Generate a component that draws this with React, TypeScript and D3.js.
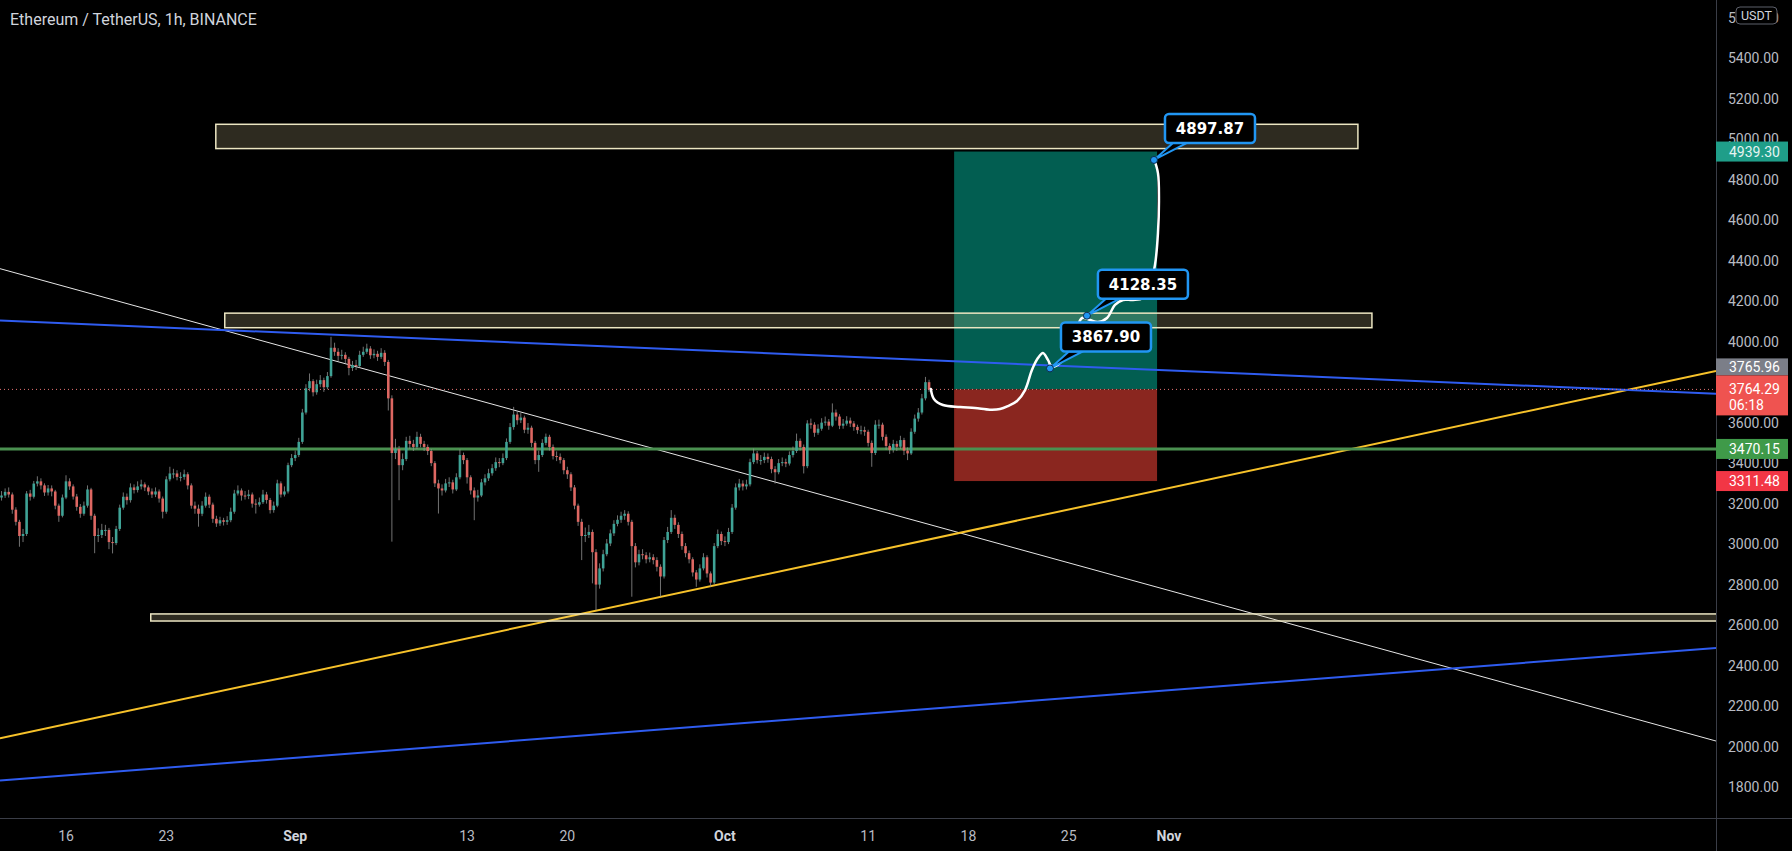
import React from "react";
import * as d3 from "d3";

// chart size
const W = 1792;
const H = 851;
const plotRight = 1716;
const plotBottom = 818;

const title = "Ethereum / TetherUS, 1h, BINANCE";

// candles: 6h steps starting at firstCandle, open = previous close
const firstCandle = "2021-08-11T12:00:00Z";
const candleHours = 6;
const firstOpen = 3230;
// [high, low, close]
const candles: [number, number, number][] = [
  [3262, 3215, 3240], [3275, 3228, 3258], [3280, 3230, 3245], [3255, 3150, 3170], [3182, 3092, 3110],
  [3120, 2987, 3040], [3075, 3010, 3050], [3262, 3040, 3250], [3268, 3215, 3234], [3312, 3225, 3299],
  [3335, 3285, 3310], [3325, 3270, 3290], [3300, 3238, 3255], [3292, 3240, 3275], [3290, 3236, 3260],
  [3268, 3172, 3190], [3200, 3110, 3140], [3245, 3132, 3230], [3340, 3222, 3310], [3325, 3268, 3285],
  [3295, 3220, 3235], [3248, 3165, 3184], [3198, 3130, 3150], [3210, 3140, 3190], [3290, 3180, 3270],
  [3278, 3120, 3140], [3150, 2955, 3040], [3078, 3010, 3045], [3100, 3030, 3070], [3095, 3040, 3070],
  [3080, 2975, 3010], [3035, 2954, 3005], [3090, 2995, 3075], [3195, 3065, 3180], [3255, 3170, 3234],
  [3250, 3195, 3217], [3300, 3205, 3280], [3295, 3250, 3267], [3310, 3255, 3285], [3318, 3270, 3295],
  [3305, 3262, 3280], [3290, 3242, 3260], [3275, 3228, 3245], [3280, 3232, 3260], [3270, 3205, 3225],
  [3235, 3127, 3160], [3335, 3150, 3320], [3382, 3310, 3349], [3372, 3325, 3349], [3365, 3315, 3332],
  [3355, 3310, 3332], [3368, 3318, 3345], [3355, 3270, 3290], [3300, 3175, 3190], [3210, 3150, 3175],
  [3195, 3086, 3150], [3212, 3138, 3190], [3255, 3180, 3234], [3245, 3178, 3195], [3205, 3105, 3125],
  [3140, 3085, 3102], [3135, 3090, 3118], [3130, 3092, 3110], [3138, 3095, 3118], [3180, 3108, 3160],
  [3268, 3150, 3250], [3290, 3240, 3265], [3275, 3215, 3240], [3262, 3220, 3238], [3268, 3222, 3245],
  [3255, 3180, 3200], [3222, 3151, 3195], [3230, 3185, 3207], [3268, 3198, 3245], [3258, 3200, 3218],
  [3228, 3151, 3168], [3210, 3155, 3190], [3318, 3182, 3300], [3310, 3230, 3245], [3285, 3235, 3260],
  [3402, 3250, 3390], [3445, 3380, 3425], [3462, 3410, 3440], [3525, 3430, 3505], [3668, 3495, 3650],
  [3790, 3640, 3770], [3843, 3755, 3805], [3815, 3730, 3750], [3812, 3738, 3790], [3835, 3775, 3810],
  [3822, 3752, 3775], [3850, 3765, 3830], [4024, 3822, 3970], [3995, 3930, 3950], [3968, 3905, 3930],
  [3960, 3912, 3935], [3948, 3895, 3915], [3925, 3834, 3870], [3905, 3855, 3885], [3910, 3860, 3880],
  [3955, 3872, 3935], [3975, 3925, 3950], [3990, 3940, 3966], [3978, 3915, 3933], [3962, 3918, 3940],
  [3955, 3905, 3925], [3968, 3915, 3945], [3958, 3880, 3900], [3910, 3660, 3720], [3735, 3012, 3450],
  [3520, 3420, 3470], [3485, 3217, 3390], [3448, 3365, 3420], [3530, 3410, 3510], [3535, 3470, 3495],
  [3515, 3460, 3480], [3555, 3470, 3530], [3545, 3478, 3495], [3510, 3460, 3480], [3492, 3440, 3460],
  [3470, 3385, 3400], [3410, 3282, 3300], [3318, 3151, 3275], [3295, 3240, 3265], [3322, 3255, 3300],
  [3330, 3282, 3305], [3318, 3250, 3270], [3350, 3262, 3330], [3468, 3320, 3440], [3452, 3395, 3415],
  [3425, 3299, 3330], [3340, 3245, 3265], [3280, 3118, 3230], [3268, 3210, 3240], [3322, 3232, 3305],
  [3345, 3290, 3325], [3372, 3312, 3350], [3395, 3338, 3375], [3428, 3362, 3405], [3425, 3380, 3400],
  [3448, 3390, 3425], [3522, 3415, 3505], [3598, 3495, 3578], [3678, 3565, 3640], [3655, 3590, 3612],
  [3648, 3598, 3625], [3635, 3548, 3565], [3598, 3545, 3575], [3585, 3480, 3500], [3510, 3395, 3415],
  [3462, 3357, 3440], [3518, 3430, 3500], [3546, 3488, 3530], [3540, 3462, 3480], [3492, 3418, 3435],
  [3458, 3410, 3431], [3448, 3398, 3415], [3425, 3345, 3365], [3382, 3322, 3345], [3355, 3262, 3280],
  [3292, 3172, 3190], [3200, 3090, 3110], [3125, 2921, 3040], [3082, 3010, 3045], [3095, 3030, 3060],
  [3072, 2806, 2960], [2975, 2674, 2800], [2905, 2780, 2880], [2972, 2865, 2950], [3025, 2940, 3003],
  [3072, 2990, 3053], [3118, 3040, 3100], [3142, 3088, 3120], [3160, 3105, 3140], [3168, 3120, 3150],
  [3162, 3092, 3110], [3120, 2740, 2990], [3005, 2885, 2910], [2972, 2895, 2950], [2975, 2925, 2945],
  [2960, 2905, 2925], [2958, 2910, 2935], [2950, 2900, 2921], [2935, 2865, 2888], [2900, 2740, 2840],
  [3035, 2830, 3020], [3085, 3005, 3060], [3168, 3050, 3130], [3145, 3075, 3095], [3108, 3030, 3050],
  [3062, 2972, 2990], [3005, 2935, 2955], [2968, 2905, 2925], [2935, 2840, 2860], [2872, 2789, 2825],
  [2900, 2815, 2880], [2955, 2870, 2935], [2945, 2835, 2855], [2865, 2789, 2810], [3005, 2800, 2990],
  [3072, 2980, 3050], [3062, 2995, 3015], [3038, 2990, 3010], [3080, 3000, 3060], [3198, 3050, 3180],
  [3300, 3170, 3280], [3322, 3265, 3299], [3315, 3265, 3285], [3318, 3270, 3295], [3422, 3285, 3405],
  [3472, 3395, 3448], [3460, 3398, 3415], [3440, 3392, 3415], [3452, 3400, 3431], [3448, 3402, 3420],
  [3432, 3350, 3370], [3385, 3299, 3355], [3420, 3345, 3400], [3428, 3385, 3405], [3422, 3380, 3398],
  [3458, 3388, 3440], [3482, 3428, 3460], [3546, 3450, 3510], [3522, 3462, 3480], [3492, 3349, 3385],
  [3612, 3375, 3596], [3620, 3570, 3590], [3602, 3530, 3550], [3592, 3540, 3570], [3622, 3560, 3600],
  [3630, 3585, 3605], [3618, 3565, 3585], [3695, 3578, 3650], [3665, 3610, 3630], [3642, 3568, 3585],
  [3618, 3570, 3595], [3632, 3585, 3610], [3625, 3578, 3596], [3608, 3560, 3579], [3590, 3545, 3563],
  [3585, 3542, 3563], [3580, 3535, 3555], [3565, 3482, 3500], [3512, 3382, 3450], [3612, 3440, 3590],
  [3615, 3570, 3590], [3600, 3512, 3530], [3542, 3465, 3485], [3498, 3445, 3465], [3515, 3452, 3495],
  [3510, 3460, 3481], [3535, 3470, 3514], [3525, 3440, 3462], [3478, 3415, 3448], [3572, 3440, 3555],
  [3640, 3545, 3620], [3672, 3605, 3650], [3742, 3640, 3720], [3826, 3710, 3800], [3812, 3752, 3764.29],
];

// axis ticks (3800 sits under the price labels)
const priceTicks = [1800, 2000, 2200, 2400, 2600, 2800, 3000, 3200, 3400, 3600, 4000, 4200, 4400, 4600, 4800, 5000, 5200, 5400, 5600];
const timeTicks = ["2021-08-16", "2021-08-23", "2021-09-01", "2021-09-13", "2021-09-20", "2021-10-01", "2021-10-11", "2021-10-18", "2021-10-25", "2021-11-01"];
const timeLabels = ["16", "23", "Sep", "13", "20", "Oct", "11", "18", "25", "Nov"];

// zones: [start, end, top price, bottom price]
const zones: [string, string, number, number][] = [
  ["2021-08-26T11:00Z", "2021-11-14T04:30Z", 5074, 4954],
  ["2021-08-27T02:00Z", "2021-11-15T04:00Z", 4141, 4069],
  ["2021-08-21T22:00Z", "2021-12-31T00:00Z", 2655, 2620],
];

// extended trend lines: two anchors each
const whiteLine: [string, number][] = [["2021-08-16", 4271], ["2021-11-01", 2771]];
const blueUpper: [string, number][] = [["2021-08-16", 4091], ["2021-11-01", 3858]];
const blueLower: [string, number][] = [["2021-08-16", 1857], ["2021-11-01", 2278]];
const yellowLine: [string, number][] = [["2021-08-16", 2110], ["2021-11-01", 3277]];

const supportLevel = 3470.15;

// long position
const posStart = "2021-10-17T00:00Z";
const posEnd = "2021-10-31T04:00Z";
const entry = 3764.29;
const target = 4939.3;
const stop = 3311.48;

// hand drawn projection
const projection: [string, number][] = [
  ["2021-10-15T09:00Z", 3766], ["2021-10-15T14:10Z", 3717], ["2021-10-16T05:20Z", 3687],
  ["2021-10-17T09:50Z", 3677], ["2021-10-18T11:00Z", 3672], ["2021-10-19T12:00Z", 3664],
  ["2021-10-20T04:50Z", 3667], ["2021-10-20T18:15Z", 3682], ["2021-10-21T09:20Z", 3707],
  ["2021-10-21T22:50Z", 3761], ["2021-10-22T10:20Z", 3860], ["2021-10-22T20:25Z", 3919],
  ["2021-10-23T04:50Z", 3944], ["2021-10-23T13:10Z", 3910], ["2021-10-23T19:55Z", 3875],
  ["2021-10-24T09:20Z", 3895], ["2021-10-24T22:50Z", 3944], ["2021-10-25T12:15Z", 4053],
  ["2021-10-25T22:20Z", 4117], ["2021-10-26T11:35Z", 4107], ["2021-10-27T01:00Z", 4097],
  ["2021-10-27T16:05Z", 4117], ["2021-10-28T05:30Z", 4182], ["2021-10-28T19:00Z", 4206],
  ["2021-10-29T11:45Z", 4206], ["2021-10-30T04:20Z", 4216], ["2021-10-30T16:05Z", 4280],
  ["2021-10-31T00:30Z", 4379], ["2021-10-31T05:30Z", 4537], ["2021-10-31T07:10Z", 4700],
  ["2021-10-31T05:30Z", 4833], ["2021-10-30T22:50Z", 4903],
];

const notes: [string, number][] = [
  ["2021-10-23T16:35Z", 3867.9],
  ["2021-10-26T06:30Z", 4128.35],
  ["2021-10-30T22:50Z", 4897.87],
];

const lastPrice = 3764.29;
const countdown = "06:18";
const lineValue = 3765.96;

const font = "Roboto, 'Noto Sans', sans-serif";

const App: React.FC = () => {
  const x = d3
    .scaleUtc()
    .domain([new Date("2021-08-16T00:00Z"), new Date("2021-11-01T00:00Z")])
    .range([66, 1169]);
  const y = d3.scaleLinear().domain([1800, 5400]).range([787, 58.3]);

  const t0 = new Date(firstCandle).getTime();
  let prev = firstOpen;
  const bars = candles.map(([h, l, c], i) => {
    const o = prev;
    prev = c;
    return { t: new Date(t0 + i * candleHours * 3600e3), o, h, l, c };
  });
  const step = x(new Date(t0 + candleHours * 3600e3)) - x(new Date(t0));
  const bw = step * 0.72;

  // extend a two-point line across the plot
  const extend = (pts: [string, number][]) => {
    const [a, b] = pts.map(([d, p]) => [x(new Date(d)), y(p)]);
    const k = (b[1] - a[1]) / (b[0] - a[0]);
    return { x1: 0, y1: a[1] - k * a[0], x2: plotRight, y2: a[1] + k * (plotRight - a[0]) };
  };

  const curve = d3
    .line<[string, number]>()
    .x((d) => x(new Date(d[0])))
    .y((d) => y(d[1]))
    .curve(d3.curveCatmullRom.alpha(0.5))(projection);

  const axisLabel = (v: number) => v.toFixed(2);

  const px1 = x(new Date(posStart));
  const px2 = x(new Date(posEnd));

  return (
    <svg
      width={W}
      height={H}
      style={{ position: "fixed", left: 0, top: 0, background: "#000" }}
      fontFamily={font}
    >
      <defs>
        <clipPath id="plot">
          <rect x={0} y={0} width={plotRight} height={plotBottom} />
        </clipPath>
      </defs>
      <rect width={W} height={H} fill="#000" />

      <g clipPath="url(#plot)">
        {/* long position */}
        <rect x={px1} y={y(target)} width={px2 - px1} height={y(entry) - y(target)} fill="#025e51" />
        <rect x={px1} y={y(entry)} width={px2 - px1} height={y(stop) - y(entry)} fill="#8a261f" />

        {/* trend lines */}
        <line {...extend(whiteLine)} stroke="#e6e6e6" strokeWidth={1} />
        <line {...extend(yellowLine)} stroke="#f7c22a" strokeWidth={2} />
        <line {...extend(blueUpper)} stroke="#2f5cf0" strokeWidth={2} />
        <line {...extend(blueLower)} stroke="#2f5cf0" strokeWidth={2} />

        {/* zones */}
        {zones.map(([s, e, top, bot], i) => {
          const x1 = x(new Date(s));
          const x2 = Math.min(x(new Date(e)), plotRight + 4);
          return (
            <rect
              key={i}
              x={x1}
              y={y(top)}
              width={x2 - x1}
              height={y(bot) - y(top)}
              fill="rgba(255,240,180,0.18)"
              stroke="#ece6c2"
              strokeWidth={1.5}
            />
          );
        })}

        {/* support */}
        <line x1={0} x2={plotRight} y1={y(supportLevel)} y2={y(supportLevel)} stroke="#4a9050" strokeWidth={3} />

        {/* candles */}
        {bars.map((b, i) => {
          const cx = x(b.t);
          const up = b.c >= b.o;
          const col = up ? "#3fa396" : "#de6762";
          const yt = y(Math.max(b.o, b.c));
          const yb = y(Math.min(b.o, b.c));
          return (
            <g key={i}>
              <line x1={cx} x2={cx} y1={y(b.h)} y2={y(b.l)} stroke="#8f8f8f" strokeOpacity={0.8} strokeWidth={1} />
              <rect x={cx - bw / 2} y={yt} width={bw} height={Math.max(1, yb - yt)} fill={col} />
            </g>
          );
        })}

        {/* last price line */}
        <line
          x1={0}
          x2={plotRight}
          y1={y(lastPrice)}
          y2={y(lastPrice)}
          stroke="#e57373"
          strokeWidth={1}
          strokeDasharray="1,3"
        />

        {/* projection */}
        <path d={curve ?? ""} fill="none" stroke="#ffffff" strokeWidth={2.5} strokeLinecap="round" />

        {/* price notes */}
        {notes.map(([d, p], i) => {
          const mx = x(new Date(d));
          const my = y(p);
          const bx = mx + 11;
          const by = my - 46;
          return (
            <g key={i}>
              <polygon
                points={`${mx},${my} ${bx + 8},${by + 29} ${bx + 22},${by + 29}`}
                fill="#000"
                stroke="#2196f3"
                strokeWidth={2}
                strokeLinejoin="round"
              />
              <rect x={bx} y={by} width={90} height={29} rx={4} fill="#000" stroke="#2196f3" strokeWidth={2.5} />
              <text
                x={bx + 45}
                y={by + 15}
                textAnchor="middle"
                dominantBaseline="central"
                fill="#fff"
                fontFamily="'DejaVu Sans', sans-serif"
                fontWeight="bold"
                fontSize={15}
              >
                {p.toFixed(2)}
              </text>
              <circle cx={mx} cy={my} r={3.5} fill="#2196f3" stroke="#0d2a4a" strokeWidth={1} />
            </g>
          );
        })}
      </g>

      {/* title */}
      <text x={10} y={25} fill="#d1d4dc" fontSize={16}>
        {title}
      </text>

      {/* axes frame */}
      <line x1={plotRight + 0.5} x2={plotRight + 0.5} y1={0} y2={H} stroke="#3a3d47" />
      <line x1={0} x2={W} y1={plotBottom + 0.5} y2={plotBottom + 0.5} stroke="#3a3d47" />

      {/* price axis */}
      {priceTicks.map((v) => (
        <text key={v} x={1728} y={y(v)} dominantBaseline="central" fill="#b8bbc3" fontSize={14}>
          {axisLabel(v)}
        </text>
      ))}

      {/* time axis */}
      {timeTicks.map((d, i) => (
        <text
          key={d}
          x={x(new Date(d + "T00:00Z"))}
          y={836}
          textAnchor="middle"
          dominantBaseline="central"
          fill={isNaN(+timeLabels[i]) ? "#d1d4dc" : "#b8bbc3"}
          fontWeight={isNaN(+timeLabels[i]) ? "bold" : "normal"}
          fontSize={14}
        >
          {timeLabels[i]}
        </text>
      ))}

      {/* currency badge */}
      <rect x={1736} y={7} width={41} height={17} rx={4} fill="#000" stroke="#5d606b" />
      <text x={1756.5} y={15.5} textAnchor="middle" dominantBaseline="central" fill="#d1d4dc" fontSize={12.5}>
        USDT
      </text>

      {/* price labels */}
      <rect x={plotRight} y={y(target) - 10} width={72} height={20} fill="#1f9e89" />
      <text x={1729} y={y(target)} dominantBaseline="central" fill="#e6f4f1" fontSize={14}>
        {axisLabel(target)}
      </text>

      <rect x={plotRight} y={y(lastPrice) - 31} width={72} height={17} fill="#7b7e88" />
      <text x={1729} y={y(lastPrice) - 22.5} dominantBaseline="central" fill="#ffffff" fontSize={14}>
        {axisLabel(lineValue)}
      </text>
      <rect x={plotRight} y={y(lastPrice) - 14} width={72} height={40} fill="#ef5350" />
      <text x={1729} y={y(lastPrice)} dominantBaseline="central" fill="#ffffff" fontSize={14}>
        {axisLabel(lastPrice)}
      </text>
      <text x={1729} y={y(lastPrice) + 16} dominantBaseline="central" fill="#ffffff" fontSize={14}>
        {countdown}
      </text>

      <rect x={plotRight} y={y(supportLevel) - 10} width={72} height={20} fill="#3f9a49" />
      <text x={1729} y={y(supportLevel)} dominantBaseline="central" fill="#ffffff" fontSize={14}>
        {axisLabel(supportLevel)}
      </text>

      <rect x={plotRight} y={y(stop) - 10} width={72} height={20} fill="#f23645" />
      <text x={1729} y={y(stop)} dominantBaseline="central" fill="#ffffff" fontSize={14}>
        {axisLabel(stop)}
      </text>
    </svg>
  );
};

export default App;
